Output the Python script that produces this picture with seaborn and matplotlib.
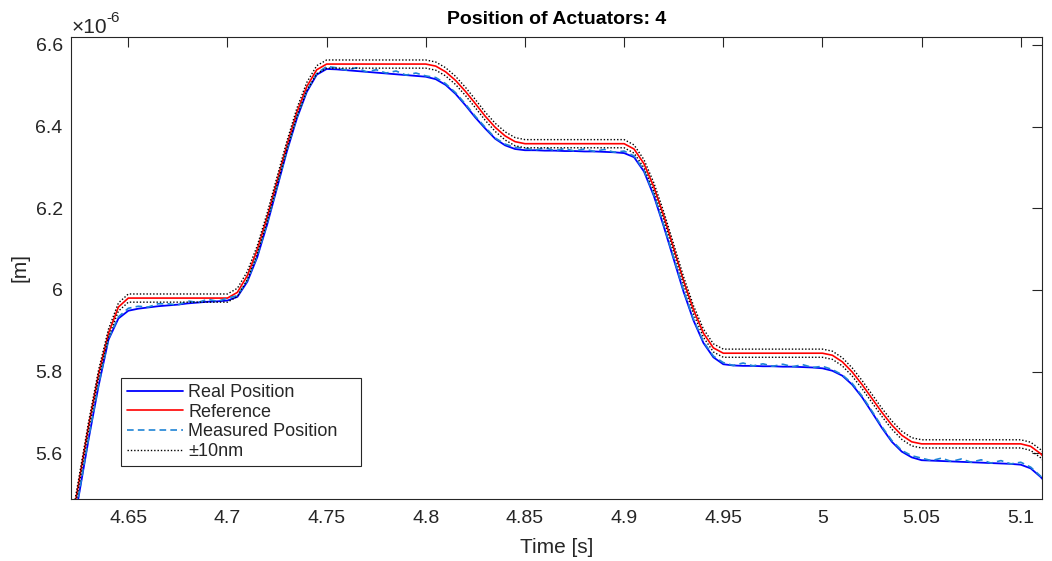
import matplotlib
matplotlib.use("Agg")
import matplotlib.pyplot as plt
import numpy as np
import pandas as pd
import seaborn as sns
from matplotlib.ticker import FuncFormatter, FixedLocator

# ---------------- data (values in 1e-6 m) ----------------
time_s = [
    4.620, 4.625, 4.630, 4.635, 4.640, 4.645, 4.650, 4.655, 4.660, 4.665,
    4.670, 4.675, 4.680, 4.685, 4.690, 4.695, 4.700, 4.705, 4.710, 4.715,
    4.720, 4.725, 4.730, 4.735, 4.740, 4.745, 4.750, 4.755, 4.760, 4.765,
    4.770, 4.775, 4.780, 4.785, 4.790, 4.795, 4.800, 4.805, 4.810, 4.815,
    4.820, 4.825, 4.830, 4.835, 4.840, 4.845, 4.850, 4.855, 4.860, 4.865,
    4.870, 4.875, 4.880, 4.885, 4.890, 4.895, 4.900, 4.905, 4.910, 4.915,
    4.920, 4.925, 4.930, 4.935, 4.940, 4.945, 4.950, 4.955, 4.960, 4.965,
    4.970, 4.975, 4.980, 4.985, 4.990, 4.995, 5.000, 5.005, 5.010, 5.015,
    5.020, 5.025, 5.030, 5.035, 5.040, 5.045, 5.050, 5.055, 5.060, 5.065,
    5.070, 5.075, 5.080, 5.085, 5.090, 5.095, 5.100, 5.105, 5.110, 5.115,
]

reference_um = [
    5.388, 5.528, 5.668, 5.794, 5.894, 5.958, 5.980, 5.980, 5.980, 5.980,
    5.980, 5.980, 5.980, 5.980, 5.980, 5.980, 5.980, 5.994, 6.035, 6.098,
    6.178, 6.267, 6.355, 6.435, 6.498, 6.539, 6.553, 6.553, 6.553, 6.553,
    6.553, 6.553, 6.553, 6.553, 6.553, 6.553, 6.553, 6.548, 6.534, 6.513,
    6.486, 6.456, 6.425, 6.398, 6.377, 6.363, 6.358, 6.358, 6.358, 6.358,
    6.358, 6.358, 6.358, 6.358, 6.358, 6.358, 6.358, 6.345, 6.309, 6.252,
    6.181, 6.102, 6.022, 5.951, 5.894, 5.858, 5.845, 5.845, 5.845, 5.845,
    5.845, 5.845, 5.845, 5.845, 5.845, 5.845, 5.845, 5.840, 5.824, 5.799,
    5.768, 5.734, 5.700, 5.669, 5.644, 5.628, 5.623, 5.623, 5.623, 5.623,
    5.623, 5.623, 5.623, 5.623, 5.623, 5.623, 5.623, 5.617, 5.599, 5.572,
]

real_um = [
    5.360, 5.495, 5.635, 5.765, 5.878, 5.930, 5.949, 5.954, 5.957, 5.960,
    5.962, 5.964, 5.967, 5.969, 5.971, 5.972, 5.974, 5.983, 6.020, 6.080,
    6.160, 6.250, 6.340, 6.420, 6.485, 6.527, 6.541, 6.540, 6.538, 6.536,
    6.534, 6.532, 6.530, 6.528, 6.526, 6.524, 6.522, 6.516, 6.502, 6.480,
    6.452, 6.422, 6.395, 6.370, 6.354, 6.345, 6.342, 6.342, 6.341, 6.341,
    6.340, 6.340, 6.339, 6.339, 6.338, 6.337, 6.335, 6.325, 6.290, 6.230,
    6.155, 6.075, 5.995, 5.925, 5.870, 5.835, 5.818, 5.815, 5.814, 5.814,
    5.813, 5.813, 5.812, 5.812, 5.811, 5.810, 5.808, 5.802, 5.790, 5.768,
    5.737, 5.700, 5.662, 5.628, 5.604, 5.590, 5.583, 5.582, 5.581, 5.580,
    5.579, 5.578, 5.577, 5.576, 5.575, 5.574, 5.572, 5.563, 5.542, 5.515,
]

measured_um = [
    5.362, 5.498, 5.638, 5.768, 5.880, 5.934, 5.955, 5.960, 5.958, 5.966,
    5.966, 5.963, 5.973, 5.969, 5.977, 5.972, 5.980, 5.986, 6.023, 6.083,
    6.163, 6.253, 6.343, 6.423, 6.488, 6.530, 6.547, 6.544, 6.538, 6.544,
    6.534, 6.539, 6.531, 6.536, 6.526, 6.531, 6.524, 6.520, 6.505, 6.483,
    6.455, 6.425, 6.398, 6.372, 6.357, 6.349, 6.347, 6.342, 6.348, 6.341,
    6.346, 6.340, 6.345, 6.339, 6.344, 6.337, 6.340, 6.328, 6.293, 6.233,
    6.158, 6.078, 5.998, 5.928, 5.873, 5.838, 5.822, 5.815, 5.821, 5.814,
    5.819, 5.813, 5.818, 5.812, 5.817, 5.810, 5.813, 5.805, 5.792, 5.771,
    5.740, 5.703, 5.665, 5.631, 5.607, 5.594, 5.588, 5.582, 5.588, 5.580,
    5.586, 5.578, 5.584, 5.576, 5.582, 5.574, 5.578, 5.566, 5.544, 5.517,
]

tolerance_um = 0.01  # +-10 nm

x_ticks = [4.65, 4.70, 4.75, 4.80, 4.85, 4.90, 4.95, 5.00, 5.05, 5.10]
y_ticks = [5.6, 5.8, 6.0, 6.2, 6.4, 6.6]

series_labels = ["Real Position", "Reference", "Measured Position", "\u00b110nm"]
title_text = "Position of Actuators: 4"
x_label = "Time [s]"
y_label = "[m]"

# ---------------- styling ----------------
sns.set_theme(style="white")
plt.rcParams["font.family"] = ["Liberation Sans", "DejaVu Sans"]
plt.rcParams["axes.edgecolor"] = "#262626"
plt.rcParams["axes.linewidth"] = 0.8

df = pd.DataFrame({
    "t": time_s,
    "ref": reference_um,
    "real": real_um,
    "meas": measured_um,
})
df["upper"] = df["ref"] + tolerance_um
df["lower"] = df["ref"] - tolerance_um

W, H = 1052, 561
fig = plt.figure(figsize=(W / 100, H / 100), dpi=100)
ax = fig.add_axes([71 / W, 1 - 499 / H, 971 / W, 462.3 / H])

sns.lineplot(data=df, x="t", y="real", ax=ax, color="#0000FF", lw=1.3,
             sort=False, estimator=None, label=series_labels[0])
sns.lineplot(data=df, x="t", y="ref", ax=ax, color="#FF0000", lw=1.2,
             sort=False, estimator=None, label=series_labels[1])
sns.lineplot(data=df, x="t", y="meas", ax=ax, color="#1F84D6", lw=1.2,
             linestyle=(0, (4, 2.5)), sort=False, estimator=None,
             label=series_labels[2])
sns.lineplot(data=df, x="t", y="upper", ax=ax, color="black", lw=1.0,
             linestyle=(0, (1, 1.4)), sort=False, estimator=None,
             label=series_labels[3])
sns.lineplot(data=df, x="t", y="lower", ax=ax, color="black", lw=1.0,
             linestyle=(0, (1, 1.4)), sort=False, estimator=None,
             label="_nolegend_")

ax.set_xlim(4.6211, 5.1107)
ax.set_ylim(5.488, 6.620)
ax.xaxis.set_major_locator(FixedLocator(x_ticks))
ax.yaxis.set_major_locator(FixedLocator(y_ticks))
fmt = FuncFormatter(lambda v, p: f"{v:g}")
ax.xaxis.set_major_formatter(fmt)
ax.yaxis.set_major_formatter(fmt)
ax.tick_params(axis="both", which="major", direction="in", length=7,
               width=0.8, color="#262626", labelcolor="#262626",
               labelsize=14, top=True, right=True)
ax.tick_params(axis="x", pad=8)
ax.tick_params(axis="y", pad=6)
for s in ax.spines.values():
    s.set_visible(True)
    s.set_color("#262626")
    s.set_linewidth(0.8)

ax.set_title(title_text, fontsize=14, fontweight="bold", pad=9, color="black")
ax.set_xlabel(x_label, fontsize=15, color="#262626", labelpad=8)
ax.set_ylabel(y_label, fontsize=15, color="#262626", labelpad=4)

handles, labels = ax.get_legend_handles_labels()
leg = ax.legend(handles, labels, loc="lower left",
                bbox_to_anchor=(50 / 971, 33 / 462.3, 240 / 971, 0.15),
                mode="expand", borderaxespad=0,
                fontsize=13, frameon=True, fancybox=False,
                edgecolor="#262626", framealpha=1, handlelength=3.1,
                handletextpad=0.3, labelspacing=0.15, borderpad=0.33)
leg.get_frame().set_linewidth(0.8)

# axis exponent (x10^-6)
fig.text(72 / W, 1 - 33 / H, "\u00d710", fontsize=15, color="#262626",
         va="baseline", ha="left")
fig.text(106 / W, 1 - 22 / H, "-6", fontsize=11, color="#262626",
         va="baseline", ha="left")

fig.savefig("out.png", dpi=100, facecolor="white")
